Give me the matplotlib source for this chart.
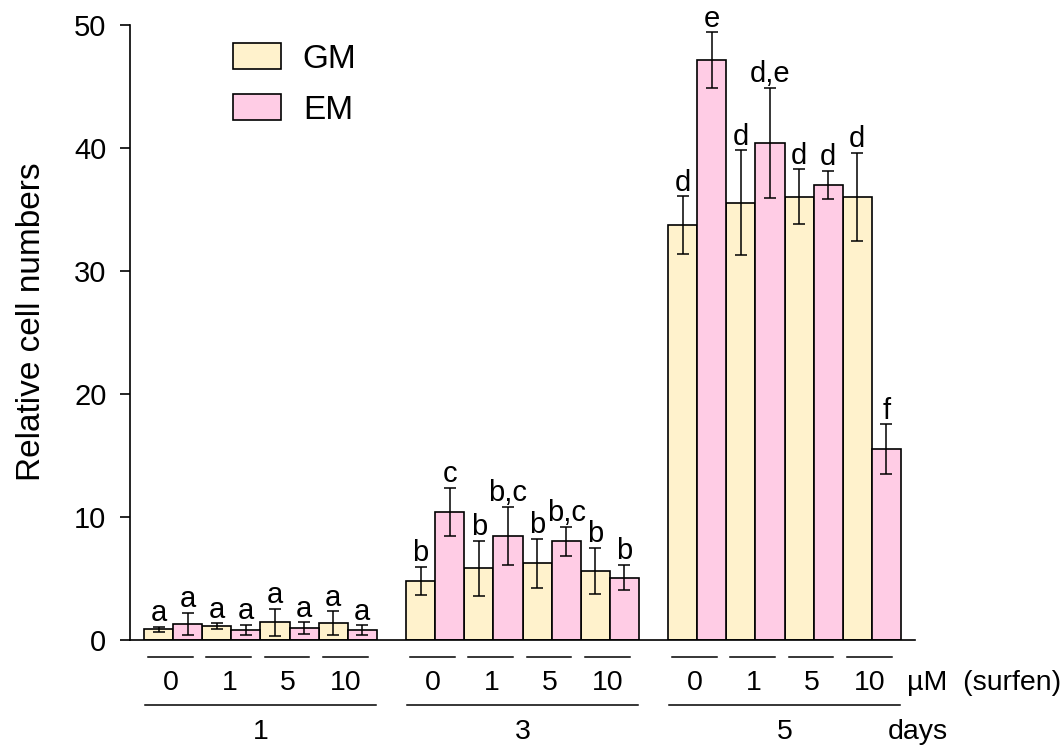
import matplotlib
matplotlib.use("Agg")
import matplotlib.pyplot as plt
import matplotlib.transforms as mtransforms
from matplotlib.patches import Patch
import numpy as np

plt.rcParams['font.family'] = ['Liberation Sans', 'DejaVu Sans']

days = ["1", "3", "5"]
conc = ["0", "1", "5", "10"]
series = ["GM", "EM"]
colors = ["#FFF2CC", "#FFCCE5"]

# values ordered by day, then concentration
gm_vals = [0.87, 1.11, 1.46, 1.38,
           4.80, 5.83, 6.23, 5.64,
           33.74, 35.55, 36.04, 36.04]
gm_err = [0.19, 0.25, 1.10, 0.96,
          1.15, 2.22, 1.98, 1.86,
          2.34, 4.27, 2.22, 3.58]
em_vals = [1.33, 0.84, 0.95, 0.79,
           10.43, 8.46, 8.02, 5.07,
           47.13, 40.41, 36.99, 15.50]
em_err = [0.90, 0.42, 0.50, 0.40,
          1.94, 2.37, 1.20, 1.04,
          2.28, 4.47, 1.15, 2.03]
gm_letters = ["a", "a", "a", "a", "b", "b", "b", "b", "d", "d", "d", "d"]
em_letters = ["a", "a", "a", "a", "c", "b,c", "b,c", "b", "e", "d,e", "d", "f"]

FS_TICK = 21
FS_LET = 21
FS_X = 20.5
FS_BIG = 24
fig = plt.figure(figsize=(10.62, 7.49), dpi=100)
ax = fig.add_axes([130/1062, 1-640/749, 785/1062, 615/749])

pos = []
for g in range(len(days)):
    for c in range(len(conc)):
        pos.append(9*g + 2*c)
pos = np.array(pos, dtype=float)

all_vals = [gm_vals, em_vals]
all_err = [gm_err, em_err]
all_let = [gm_letters, em_letters]
for s in range(2):
    x = pos + s + 0.5
    ax.bar(x, all_vals[s], width=1.0, color=colors[s], edgecolor="black",
           linewidth=1.2, label=series[s], zorder=2)
    ax.errorbar(x, all_vals[s], yerr=all_err[s], fmt="none", ecolor="black",
                elinewidth=1.1, capsize=4.5, capthick=1.1, zorder=3)
    for xi, v, e, t in zip(x, all_vals[s], all_err[s], all_let[s]):
        ax.annotate(t, (xi, v + e), xytext=(0, 4), textcoords="offset points",
                    ha="center", va="baseline", fontsize=FS_LET)

ax.set_xlim(-0.48, 26.48)
ax.set_ylim(0, 50)
ax.set_yticks([0, 10, 20, 30, 40, 50])
ax.set_xticks([])
ax.spines['top'].set_visible(False)
ax.spines['right'].set_visible(False)
ax.spines['left'].set_linewidth(1.2)
ax.spines['bottom'].set_linewidth(1.2)
ax.tick_params(axis='y', labelsize=FS_TICK, length=7, width=1.2, pad=10)
ax.set_ylabel("Relative cell numbers", fontsize=FS_BIG)
ax.yaxis.set_label_coords(-0.106, 0.518)

trans = mtransforms.blended_transform_factory(ax.transData, ax.transAxes)
for g in range(len(days)):
    for c in range(len(conc)):
        x0 = 9*g + 2*c
        ax.plot([x0 + 0.14, x0 + 1.68], [-0.027, -0.027], color="black",
                lw=1.1, transform=trans, clip_on=False)
        ax.text(x0 + 0.93, -0.070, conc[c], transform=trans, ha="center",
                va="center", fontsize=FS_X)
    ax.plot([9*g + 0.03, 9*g + 7.97], [-0.106, -0.106], color="black",
            lw=1.1, transform=trans, clip_on=False)
    ax.text(9*g + 4.0, -0.150, days[g], transform=trans, ha="center",
            va="center", fontsize=FS_X)

ax.text(26.2, -0.070, "µM  (surfen)", transform=trans, ha="left", va="center",
        fontsize=FS_X)
ax.text(25.55, -0.150, "days", transform=trans, ha="left", va="center",
        fontsize=FS_X)

handles = [Patch(facecolor=colors[i], edgecolor="black", linewidth=1.2,
                 label=series[i]) for i in range(2)]
ax.legend(handles=handles, loc="upper left", bbox_to_anchor=(0.131, 0.970),
          frameon=False, fontsize=FS_BIG, handlelength=1.44, handleheight=0.81,
          handletextpad=0.66, labelspacing=0.58, borderpad=0.0,
          borderaxespad=0.0)

fig.savefig("out.png", dpi=100)
